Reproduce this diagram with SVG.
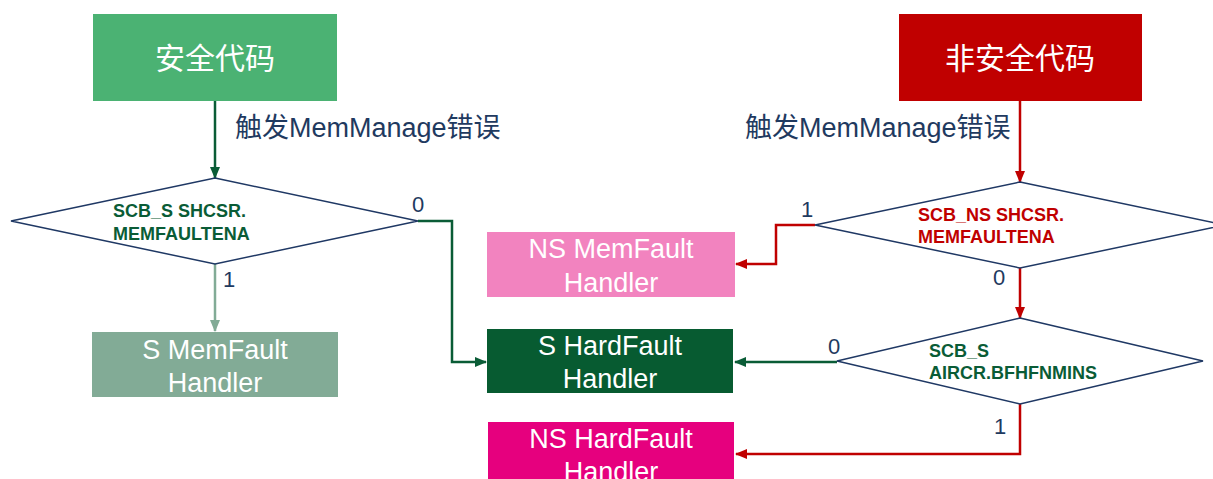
<svg xmlns="http://www.w3.org/2000/svg" width="1213" height="479" viewBox="0 0 1213 479">
<style>
text{font-family:"Liberation Sans","Noto Sans CJK SC",sans-serif}
.title{font-size:30px;fill:#fff;text-anchor:middle}
.h{font-size:27px;fill:#fff;text-anchor:middle}
.lbl{font-size:27px;fill:#1F3A60}
.num{font-size:22px;fill:#1F3A60}
.dia{fill:#fff;stroke:#1F3864;stroke-width:1.5}
.cond{font-size:18px;font-weight:bold}
.g{fill:none;stroke:#0A5C36;stroke-width:2.5}
.lg{fill:none;stroke:#82AB96;stroke-width:2.5}
.r{fill:none;stroke:#C00000;stroke-width:2.5}
</style>
<defs>
<marker id="ag" markerUnits="userSpaceOnUse" markerWidth="12" markerHeight="10" refX="11" refY="5" orient="auto"><path d="M0,0L12,5L0,10z" fill="#0A5C36"/></marker>
<marker id="alg" markerUnits="userSpaceOnUse" markerWidth="12" markerHeight="10" refX="11" refY="5" orient="auto"><path d="M0,0L12,5L0,10z" fill="#82AB96"/></marker>
<marker id="ar" markerUnits="userSpaceOnUse" markerWidth="12" markerHeight="10" refX="11" refY="5" orient="auto"><path d="M0,0L12,5L0,10z" fill="#C00000"/></marker>
</defs>
<g id="connectors">
<path class="g" d="M215,101V178" marker-end="url(#ag)"/>
<path class="lg" d="M215,264V331" marker-end="url(#alg)"/>
<path class="g" d="M418,221H452V362H486" marker-end="url(#ag)"/>
<path class="r" d="M1020,101V182" marker-end="url(#ar)"/>
<path class="r" d="M815,225H776V264H736" marker-end="url(#ar)"/>
<path class="r" d="M1020,268V318" marker-end="url(#ar)"/>
<path class="g" d="M837,362H735" marker-end="url(#ag)"/>
<path class="r" d="M1020,404V454H736" marker-end="url(#ar)"/>
<text class="lbl" x="235" y="137">触发MemManage错误</text>
<text class="lbl" x="745" y="137">触发MemManage错误</text>
<text class="num" x="412" y="212">0</text>
<text class="num" x="223" y="287">1</text>
<text class="num" x="801" y="217">1</text>
<text class="num" x="993" y="285">0</text>
<text class="num" x="828" y="354">0</text>
<text class="num" x="994" y="434">1</text>
</g>
<g id="secure-code">
<rect x="93" y="14" width="244" height="87" fill="#4BB273"/>
<text class="title" x="215" y="69">安全代码</text>
</g>
<g id="nonsecure-code">
<rect x="899" y="14" width="243" height="87" fill="#C00000"/>
<text class="title" x="1020" y="69">非安全代码</text>
</g>
<g id="dec-s-memfaultena">
<polygon class="dia" points="215,178 418,221 215,264 11,221"/>
<text class="cond" fill="#0A5C36" x="113" y="217">SCB_S SHCSR.</text>
<text class="cond" fill="#0A5C36" x="113" y="240">MEMFAULTENA</text>
</g>
<g id="dec-ns-memfaultena">
<polygon class="dia" points="1020,182 1225,225 1020,268 815,225"/>
<text class="cond" fill="#C00000" x="918" y="221">SCB_NS SHCSR.</text>
<text class="cond" fill="#C00000" x="918" y="243">MEMFAULTENA</text>
</g>
<g id="dec-bfhfnmins">
<polygon class="dia" points="1020,318 1203,361 1020,404 837,361"/>
<text class="cond" fill="#0A5C36" x="929" y="357">SCB_S</text>
<text class="cond" fill="#0A5C36" x="929" y="379">AIRCR.BFHFNMINS</text>
</g>
<g id="s-memfault">
<rect x="92" y="332" width="246" height="65" fill="#82AB96"/>
<text class="h" x="215" y="359">S MemFault</text>
<text class="h" x="215" y="392">Handler</text>
</g>
<g id="ns-memfault">
<rect x="487" y="232" width="248" height="65" fill="#F283BF"/>
<text class="h" x="611" y="258">NS MemFault</text>
<text class="h" x="611" y="292">Handler</text>
</g>
<g id="s-hardfault">
<rect x="487" y="329" width="246" height="64" fill="#075B31"/>
<text class="h" x="610" y="355">S HardFault</text>
<text class="h" x="610" y="388">Handler</text>
</g>
<g id="ns-hardfault">
<rect x="488" y="422" width="246" height="65" fill="#E6007E"/>
<text class="h" x="611" y="448">NS HardFault</text>
<text class="h" x="611" y="481">Handler</text>
</g>
</svg>
